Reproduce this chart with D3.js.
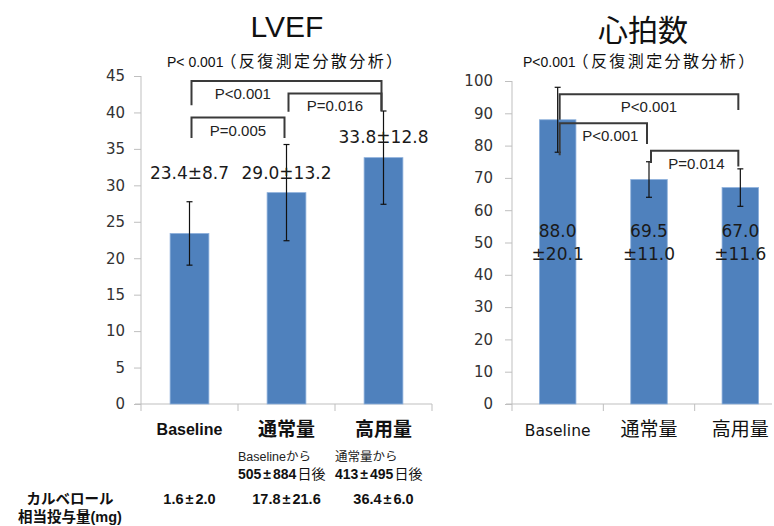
<!DOCTYPE html>
<html lang="ja">
<head>
  <meta charset="UTF-8" />
  <title>LVEF / 心拍数</title>
  <script src="https://d3js.org/d3.v7.min.js"></script>
  <style>
    body {
      margin: 0;
      background: #fff;
      font-family: "Liberation Sans", Arial, "Noto Sans CJK JP", sans-serif;
    }
    svg { display: block; }
    .axis path, .axis line { stroke: #bfbfbf; }
    .axis text { font-family: "DejaVu Sans", sans-serif; font-size: 15px; fill: #333; }
    .bracket { fill: none; stroke: #3a3a3a; stroke-width: 2px; }
    .err { stroke: #111; stroke-width: 1.2px; }
    .num { font-family: "DejaVu Sans", "Noto Sans CJK JP", sans-serif; }
  </style>
</head>
<body>
  <svg width="774" height="526"></svg>

  <script>
    // categories & values
    const categories = ["Baseline", "通常量", "高用量"];

    const lvefMean = [23.4, 29.0, 33.8];
    const lvefErr = [4.35, 6.6, 6.4];          // drawn bars = SD / 2
    const lvefText = ["23.4±8.7", "29.0±13.2", "33.8±12.8"];
    const lvefTextAt = [31.5, 31.5, 36.5];      // value level of the text
    const lvefTicks = d3.range(0, 46, 5);

    const hrMean = [88.0, 69.5, 67.0];
    const hrErr = [10.05, 5.5, 5.8];
    const hrText = [["88.0", "±20.1"], ["69.5", "±11.0"], ["67.0", "±11.6"]];
    const hrTicks = d3.range(0, 101, 10);

    // brackets: from/to category index, top level, leg ends, label place (0..1)
    const lvefBrackets = [
      { from: 0, to: 2, top: 44.3, l: 41.0, r: 40.2, label: "P<0.001", t: 0.27 },
      { from: 1, to: 2, top: 42.6, l: 40.1, r: 40.3, label: "P=0.016", t: 0.5 },
      { from: 0, to: 1, top: 39.3, l: 36.5, r: 36.5, label: "P=0.005", t: 0.5 }
    ];
    const hrBrackets = [
      { from: 0, to: 2, top: 95.9, l: 88.0, r: 91.0, label: "P<0.001", t: 0.5 },
      { from: 0, to: 1, top: 86.9, l: 77.0, r: 80.5, label: "P<0.001", t: 0.58 },
      { from: 1, to: 2, top: 78.4, l: 74.6, r: 73.5, label: "P=0.014", t: 0.52 }
    ];

    const daysNote = [null, ["Baselineから", "505±884日後"], ["通常量から", "413±495日後"]];
    const doseLabel = ["カルベロール", "相当投与量(mg)"];
    const doseValues = ["1.6±2.0", "17.8±21.6", "36.4±6.0"];

    const svg = d3.select("svg");
    const barColor = "#4f81bd";

    // put a little air round the ± like the original layout
    function plusMinus(sel, s) {
      const parts = s.split("±");
      sel.append("tspan").text(parts[0]);
      sel.append("tspan").attr("dx", 2).text("±");
      sel.append("tspan").attr("dx", 2).text(parts[1]);
    }

    function drawPanel(opt) {
      const x = d3.scaleBand().domain(categories).range(opt.xRange).padding(0);
      const y = d3.scaleLinear().domain(opt.yDomain).range([404, opt.yTop]);
      const cx = d => x(d) + x.bandwidth() / 2;
      const bw = x.bandwidth() * 0.4;
      const g = svg.append("g");

      // y axis
      g.append("g")
        .attr("class", "axis")
        .attr("transform", `translate(${opt.xRange[0]},0)`)
        .call(d3.axisLeft(y).tickValues(opt.ticks).tickSize(7).tickSizeOuter(0).tickPadding(opt.tickPad))
        .call(a => a.select(".domain").attr("d", `M0,${y(opt.yDomain[1])}V404`));

      // x axis with ticks at band edges
      const xa = g.append("g").attr("class", "axis");
      xa.append("line")
        .attr("x1", opt.xRange[0] - 6).attr("x2", Math.min(opt.xRange[1], 772))
        .attr("y1", 404).attr("y2", 404);
      xa.selectAll("line.tk")
        .data(categories.map(c => x(c)).concat([opt.xRange[1]]))
        .join("line")
        .attr("class", "tk")
        .attr("x1", d => d).attr("x2", d => d)
        .attr("y1", 404).attr("y2", 411);

      // bars
      g.selectAll("rect.bar")
        .data(opt.mean)
        .join("rect")
        .attr("class", "bar")
        .attr("x", (d, i) => cx(categories[i]) - bw / 2)
        .attr("width", bw)
        .attr("y", d => y(d))
        .attr("height", d => 404 - y(d))
        .attr("fill", barColor)
        .attr("stroke", "#8eb1dc")
        .attr("stroke-width", 0.8);

      // error bars
      const eg = g.selectAll("g.errg")
        .data(opt.mean)
        .join("g")
        .attr("class", "errg");
      eg.append("line").attr("class", "err")
        .attr("x1", (d, i) => cx(categories[i])).attr("x2", (d, i) => cx(categories[i]))
        .attr("y1", (d, i) => y(d + opt.err[i])).attr("y2", (d, i) => y(d - opt.err[i]));
      [1, -1].forEach(s => {
        eg.append("line").attr("class", "err")
          .attr("x1", (d, i) => cx(categories[i]) - 3).attr("x2", (d, i) => cx(categories[i]) + 3)
          .attr("y1", (d, i) => y(d + s * opt.err[i])).attr("y2", (d, i) => y(d + s * opt.err[i]));
      });

      // brackets
      opt.brackets.forEach(b => {
        const x0 = cx(categories[b.from]) + 2, x1 = cx(categories[b.to]) - 2;
        g.append("path")
          .attr("class", "bracket")
          .attr("d", `M${x0},${y(b.l)}V${y(b.top)}H${x1}V${y(b.r)}`);
        g.append("text")
          .attr("x", x0 + (x1 - x0) * b.t)
          .attr("y", y(b.top) + 14)
          .attr("text-anchor", "middle")
          .attr("dominant-baseline", "middle")
          .attr("font-size", 15)
          .attr("fill", "#222")
          .text(b.label);
      });

      // category labels
      g.selectAll("text.cat")
        .data(categories)
        .join("text")
        .attr("class", (d, i) => i === 0 && !opt.boldCats ? "cat num" : "cat")
        .attr("x", d => cx(d))
        .attr("y", 431)
        .attr("text-anchor", "middle")
        .attr("dominant-baseline", "middle")
        .attr("font-size", (d, i) => i === 0 ? (opt.boldCats ? 16 : 15.5) : 19)
        .attr("font-weight", opt.boldCats ? "bold" : "normal")
        .attr("fill", "#111")
        .text(d => d);

      // title + subtitle
      g.append("text")
        .attr("x", opt.titleX).attr("y", opt.titleY)
        .attr("text-anchor", "middle")
        .attr("font-size", opt.titleSize)
        .attr("fill", "#111")
        .text(opt.title);
      const sub = g.append("text")
        .attr("x", opt.subX).attr("y", 63)
        .attr("dominant-baseline", "middle")
        .attr("font-size", 14)
        .attr("fill", "#111");
      sub.append("tspan").text(opt.subP);
      sub.append("tspan").attr("dx", -3).attr("font-size", 16).attr("letter-spacing", 2.4).text("（反復測定分散分析）");

      return { x, y, cx };
    }

    // ---- LVEF ----
    const L = drawPanel({
      xRange: [141, 432], yDomain: [0, 45], yTop: 76, ticks: lvefTicks, tickPad: 9,
      mean: lvefMean, err: lvefErr, brackets: lvefBrackets, boldCats: true,
      title: "LVEF", titleX: 287, titleY: 37, titleSize: 30,
      subX: 167, subP: "P< 0.001"
    });
    svg.append("g").selectAll("text")
      .data(lvefText)
      .join("text")
      .attr("class", "num")
      .attr("x", (d, i) => L.cx(categories[i]))
      .attr("y", (d, i) => L.y(lvefTextAt[i]))
      .attr("text-anchor", "middle")
      .attr("dominant-baseline", "middle")
      .attr("font-size", 17)
      .attr("fill", "#1a1a1a")
      .text(d => d);

    // ---- 心拍数 ----
    const H = drawPanel({
      xRange: [512, 786], yDomain: [0, 100], yTop: 81, ticks: hrTicks, tickPad: 12,
      mean: hrMean, err: hrErr, brackets: hrBrackets, boldCats: false,
      title: "心拍数", titleX: 643, titleY: 41, titleSize: 30,
      subX: 523, subP: "P<0.001"
    });
    const hv = svg.append("g").selectAll("text")
      .data(hrText)
      .join("text")
      .attr("class", "num")
      .attr("x", (d, i) => H.cx(categories[i]))
      .attr("y", 231)
      .attr("text-anchor", "middle")
      .attr("font-size", 17)
      .attr("fill", "#1a1a1a");
    hv.append("tspan").attr("dy", "0.35em").text(d => d[0]);
    hv.append("tspan").attr("x", (d, i) => H.cx(categories[i])).attr("dy", 23).text(d => d[1]);

    // ---- notes under LVEF ----
    const notes = svg.append("g");
    daysNote.forEach((n, i) => {
      if (!n) return;
      const x0 = L.x(categories[i]);
      notes.append("text").attr("x", x0).attr("y", 458)
        .attr("dominant-baseline", "middle").attr("font-size", 12.5).attr("fill", "#222")
        .text(n[0]);
      const t = notes.append("text").attr("x", x0).attr("y", 475)
        .attr("dominant-baseline", "middle").attr("font-size", 14).attr("fill", "#111");
      const m = n[1].match(/^(.*?)(日後)$/);
      plusMinus(t.append("tspan").attr("font-weight", "bold"), m[1]);
      t.append("tspan").attr("dx", 1).text(m[2]);
    });

    notes.selectAll("text.dl")
      .data(doseLabel)
      .join("text")
      .attr("class", "dl")
      .attr("x", 70)
      .attr("y", (d, i) => 500 + i * 18)
      .attr("text-anchor", "middle")
      .attr("dominant-baseline", "middle")
      .attr("font-size", 14.5)
      .attr("font-weight", "bold")
      .attr("fill", "#111")
      .text(d => d);

    notes.selectAll("text.dv")
      .data(doseValues)
      .join("text")
      .attr("class", "dv")
      .attr("x", (d, i) => L.cx(categories[i]))
      .attr("y", 500)
      .attr("text-anchor", "middle")
      .attr("dominant-baseline", "middle")
      .attr("font-size", 14.5)
      .attr("font-weight", "bold")
      .attr("fill", "#111")
      .each(function (d) { plusMinus(d3.select(this), d); });
  </script>
</body>
</html>
